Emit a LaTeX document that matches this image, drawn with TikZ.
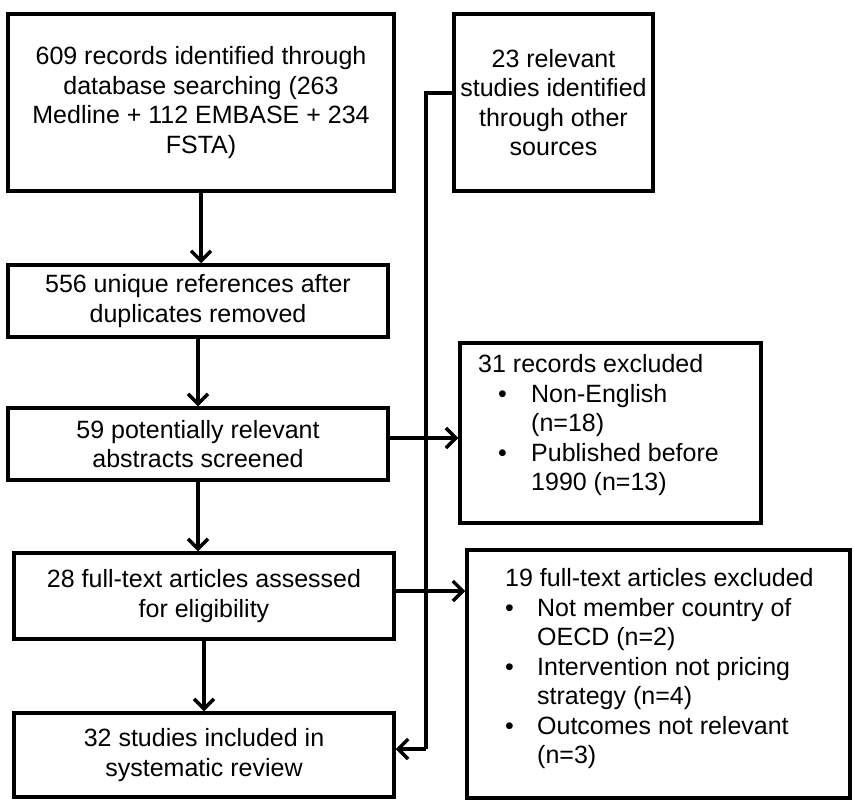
\documentclass[tikz,border=0pt]{standalone}
\usepackage{fontspec}
\setmainfont{Liberation Sans}
\usetikzlibrary{arrows.meta}
\begin{document}
\begin{tikzpicture}[x=1pt,y=-1pt,
  box/.style={draw,line width=3.5pt,inner sep=0pt,align=center,font=\fontsize{25}{29.5}\selectfont},
  arr/.style={line width=3.5pt,-{Straight Barb[length=10pt,width=20pt,line width=3.5pt]}},
  ln/.style={line width=3.5pt}]
\useasboundingbox (0,0) rectangle (854,800);
\node[box,minimum width=386pt,minimum height=177pt] (b1) at (201,102.5) {609 records identified through\\database searching (263\\Medline + 112 EMBASE + 234\\FSTA)};
\node[box,minimum width=199pt,minimum height=177pt] (b2) at (553.5,102.5) {23 relevant\\studies identified\\through other\\sources};
\node[box,minimum width=380pt,minimum height=72pt] (b3) at (198,301) {556 unique references after\\duplicates removed};
\node[box,minimum width=380pt,minimum height=72pt] (b4) at (198,444) {59 potentially relevant\\abstracts screened};
\node[box,minimum width=380pt,minimum height=86pt] (b6) at (204,596) {28 full-text articles assessed\\for eligibility};
\node[box,minimum width=380pt,minimum height=84pt] (b8) at (204,755) {32 studies included in\\systematic review};
\node[box,minimum width=301pt,minimum height=180pt] (b5) at (610.5,433) {};
\node[box,minimum width=383pt,minimum height=248pt] (b7) at (658.5,674) {};
\node[anchor=north west,inner sep=0pt,font=\fontsize{25}{29.5}\selectfont] (t5) at (478,352) {%
\begin{tabular}{@{}p{53pt}@{}l@{}}
\multicolumn{2}{@{}l@{}}{31 records excluded}\\
\hspace*{20pt}\textbullet & Non-English\\
 & (n=18)\\
\hspace*{20pt}\textbullet & Published before\\
 & 1990 (n=13)
\end{tabular}};
\node[anchor=north west,inner sep=0pt,font=\fontsize{25}{29.5}\selectfont] (t7) at (505,566) {%
\begin{tabular}{@{}p{32pt}@{}l@{}}
\multicolumn{2}{@{}l@{}}{19 full-text articles excluded}\\
\textbullet & Not member country of\\
 & OECD (n=2)\\
\textbullet & Intervention not pricing\\
 & strategy (n=4)\\
\textbullet & Outcomes not relevant\\
 & (n=3)
\end{tabular}};
\draw[arr] (b1.south) -- (b1.south |- b3.north);
\draw[arr] (b3.south) -- (b3.south |- b4.north);
\draw[arr] (b4.south) -- (b4.south |- b6.north);
\draw[arr] (b6.south) -- (b6.south |- b8.north);
\draw[arr] ([yshift=6pt]b4.east) -- ([yshift=6pt]b4.east -| b5.west);
\draw[arr] ([yshift=5pt]b6.east) -- ([yshift=5pt]b6.east -| b7.west);
\coordinate (c1) at (426,93);
\coordinate (c2) at (426,749);
\draw[ln] ([yshift=9.5pt]b2.west) -- (c1) -- (c2);
\draw[arr] (c2) -- (c2 -| b8.east);
\end{tikzpicture}
\end{document}
